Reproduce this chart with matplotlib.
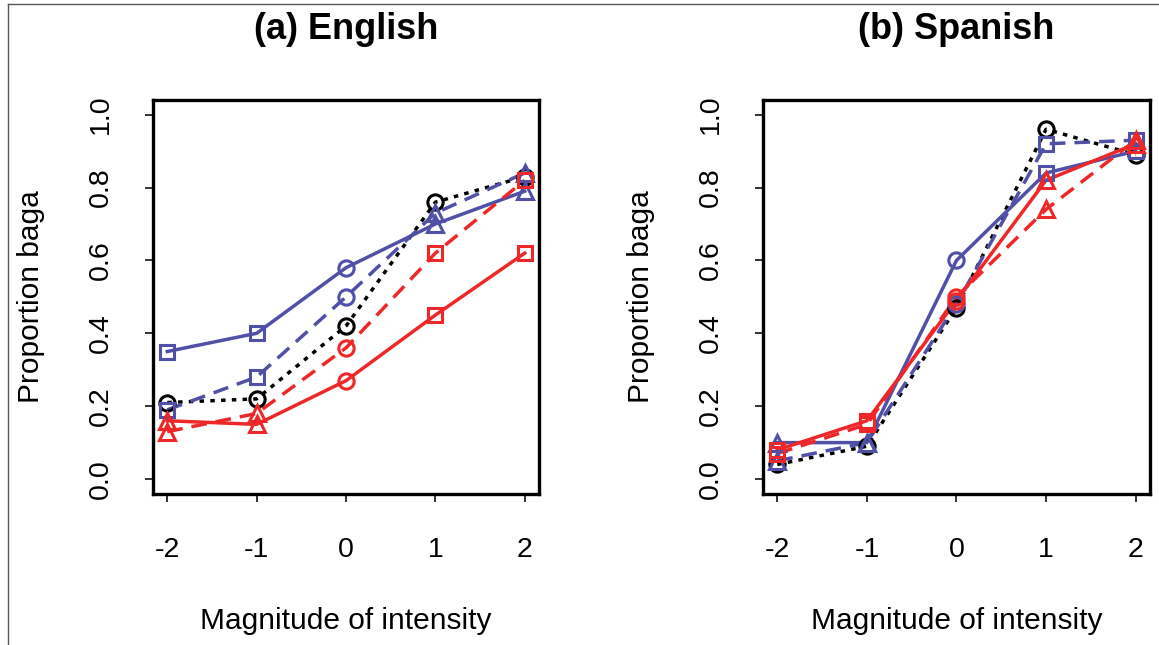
import numpy as np
import matplotlib
matplotlib.use("Agg")
from matplotlib import pyplot as plt
from matplotlib.lines import Line2D

plt.rcParams["font.family"] = ["Liberation Sans", "DejaVu Sans"]
plt.rcParams["axes.unicode_minus"] = False

intensity = [-2, -1, 0, 1, 2]

# (a) English
eng_black = [0.21, 0.22, 0.42, 0.76, 0.83]
eng_blue_dash = [0.19, 0.28, 0.50, 0.73, 0.84]
eng_blue_solid = [0.35, 0.40, 0.58, 0.70, 0.79]
eng_red_dash = [0.13, 0.18, 0.36, 0.62, 0.82]
eng_red_solid = [0.16, 0.15, 0.27, 0.45, 0.62]

# (b) Spanish
spa_black = [0.04, 0.09, 0.47, 0.96, 0.89]
spa_blue_dash = [0.05, 0.10, 0.48, 0.92, 0.93]
spa_blue_solid = [0.10, 0.10, 0.60, 0.84, 0.90]
spa_red_dash = [0.07, 0.15, 0.50, 0.74, 0.93]
spa_red_solid = [0.08, 0.16, 0.49, 0.82, 0.92]

eng_blue_marks = ["s", "s", "o", "^", "^"]
eng_red_marks = ["^", "^", "o", "s", "s"]
spa_blue_marks = ["^", "^", "o", "s", "s"]
spa_red_marks = ["s", "s", "o", "^", "^"]
black_marks = ["o"] * 5

BLUE = "#5050a8"
RED = "#ee2828"
msize = {"o": 11, "s": 10, "^": 12}


def draw_series(ax, y, marks, color, ls):
    ax.plot(intensity, y, color=color, lw=2.5, linestyle=ls, zorder=2)
    for m in set(marks):
        xs = [x for x, mk in zip(intensity, marks) if mk == m]
        ys = [v for v, mk in zip(y, marks) if mk == m]
        ax.plot(xs, ys, linestyle="none", marker=m, markersize=msize[m],
                markerfacecolor="none", markeredgecolor=color,
                markeredgewidth=2.2, zorder=3)


def setup(ax, title):
    ax.set_xlim(-2.16, 2.16)
    ax.set_ylim(-0.04, 1.04)
    ax.set_xticks(intensity)
    ax.set_xticklabels([str(v) for v in intensity])
    ax.set_yticks([0.0, 0.2, 0.4, 0.6, 0.8, 1.0])
    ax.set_yticklabels(["0.0", "0.2", "0.4", "0.6", "0.8", "1.0"],
                       rotation=90, va="center")
    ax.tick_params(axis="both", direction="out", length=6, width=1.4,
                   color="#333333", labelsize=20.5)
    ax.tick_params(axis="x", pad=25)
    ax.tick_params(axis="y", pad=22)
    for s in ax.spines.values():
        s.set_linewidth(2.4)
    ax.set_xlabel("Magnitude of intensity", fontsize=21.5, labelpad=32)
    ax.set_ylabel("Proportion baga", fontsize=21.5, labelpad=31)
    ax.set_title(title, fontsize=26, fontweight="bold", pad=44)


fig = plt.figure(figsize=(11.59, 6.45), dpi=100)
ax1 = fig.add_axes([0.132, 0.2347, 0.3331, 0.6101])
ax2 = fig.add_axes([0.6583, 0.2347, 0.3339, 0.6101])

draw_series(ax1, eng_black, black_marks, "black", (0, (1.3, 1.8)))
draw_series(ax1, eng_blue_dash, eng_blue_marks, BLUE, (0, (4.5, 2.6)))
draw_series(ax1, eng_blue_solid, eng_blue_marks, BLUE, "-")
draw_series(ax1, eng_red_dash, eng_red_marks, RED, (0, (4.5, 2.6)))
draw_series(ax1, eng_red_solid, eng_red_marks, RED, "-")
setup(ax1, "(a) English")

draw_series(ax2, spa_black, black_marks, "black", (0, (1.3, 1.8)))
draw_series(ax2, spa_blue_dash, spa_blue_marks, BLUE, (0, (4.5, 2.6)))
draw_series(ax2, spa_blue_solid, spa_blue_marks, BLUE, "-")
draw_series(ax2, spa_red_dash, spa_red_marks, RED, (0, (4.5, 2.6)))
draw_series(ax2, spa_red_solid, spa_red_marks, RED, "-")
setup(ax2, "(b) Spanish")

# thin frame at the left and top edge of the picture
fig.add_artist(Line2D([8 / 1159, 8 / 1159], [0, 1 - 4 / 645], transform=fig.transFigure,
                      color="#555555", lw=1.0))
fig.add_artist(Line2D([8 / 1159, 1], [1 - 4 / 645, 1 - 4 / 645], transform=fig.transFigure,
                      color="#555555", lw=1.0))

fig.savefig("out.png", dpi=100)
